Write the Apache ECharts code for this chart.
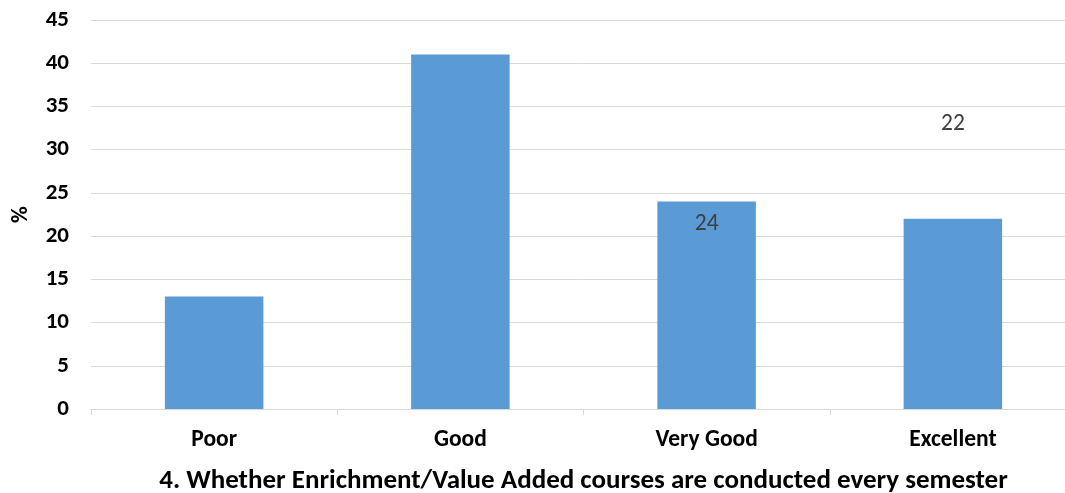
<!DOCTYPE html>
<html><head><meta charset="utf-8">
<script src="https://cdn.jsdelivr.net/npm/echarts@6/dist/echarts.min.js"></script>
<style>html,body{margin:0;padding:0;background:#fff}#c{width:1065px;height:493px}</style>
</head><body><div id="c"></div>
<script>
const categories = ['Poor', 'Good', 'Very Good', 'Excellent'];
const values = [13, 41, 24, 22];
const yTicks = { min: 0, max: 45, interval: 5 };
const xTitle = '4. Whether Enrichment/Value Added courses are conducted every semester';
const yTitle = '%';

const chart = echarts.init(document.getElementById('c'), null, { renderer: 'canvas' });
const FONT = 'Carlito, "Open Sans", "Liberation Sans", sans-serif';
const data = values.map((v, i) => {
  const d = { value: v };
  if (i === 2) d.label = { show: true, position: 'insideTop', offset: [0, 6] };
  else if (i === 3) d.label = { show: true, position: 'top', offset: [0, -78] };
  else d.label = { show: false };
  return d;
});
chart.setOption({
  animation: false,
  grid: { left: 91, top: 20, width: 985, height: 389, containLabel: false, outerBoundsMode: 'none' },
  xAxis: {
    type: 'category', data: categories,
    axisLine: { lineStyle: { color: '#d9d9d9', width: 1 } },
    axisTick: { show: true, length: 6, lineStyle: { color: '#d9d9d9' } },
    axisLabel: { color: '#000', fontWeight: 'bold', fontSize: 23.5, fontFamily: FONT, margin: 19 },
    name: xTitle, nameLocation: 'middle', nameGap: 59,
    nameTextStyle: { color: '#000', fontWeight: 'bold', fontSize: 27, fontFamily: FONT }
  },
  yAxis: {
    type: 'value', min: yTicks.min, max: yTicks.max, interval: yTicks.interval,
    axisLine: { show: false }, axisTick: { show: false },
    splitLine: { lineStyle: { color: '#d9d9d9', width: 1 } },
    axisLabel: { color: '#000', fontWeight: 'bold', fontSize: 23, fontFamily: FONT, margin: 22 },
    name: yTitle, nameLocation: 'middle', nameGap: 58, nameRotate: 90,
    nameTextStyle: { color: '#000', fontWeight: 'bold', fontSize: 23, fontFamily: FONT }
  },
  series: [{
    type: 'bar', data: data, barWidth: '40%',
    itemStyle: { color: '#5b9bd5' },
    label: { color: '#404040', fontSize: 23.5, fontFamily: FONT }
  }]
});
</script></body></html>
